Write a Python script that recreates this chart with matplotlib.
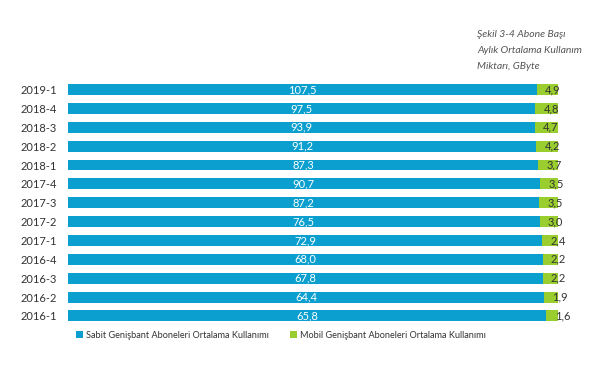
import matplotlib.pyplot as plt
import numpy as np

plt.rcParams['font.family'] = ['Lato', 'DejaVu Sans']

periods = ["2019-1", "2018-4", "2018-3", "2018-2", "2018-1", "2017-4", "2017-3",
           "2017-2", "2017-1", "2016-4", "2016-3", "2016-2", "2016-1"]
sabit = [107.5, 97.5, 93.9, 91.2, 87.3, 90.7, 87.2, 76.5, 72.9, 68.0, 67.8, 64.4, 65.8]
mobil = [4.9, 4.8, 4.7, 4.2, 3.7, 3.5, 3.5, 3.0, 2.4, 2.2, 2.2, 1.9, 1.6]

blue = "#0a9fcf"
green = "#9acd2e"

sabit = np.array(sabit)
mobil = np.array(mobil)
total = sabit + mobil
p_sabit = sabit / total
p_mobil = mobil / total

fig = plt.figure(figsize=(6, 3.71), dpi=100)
ax = fig.add_axes([0.113, 0.123, 0.817, 0.661])

y = np.arange(len(periods))
ax.barh(y, p_sabit, height=0.58, color=blue, label="Sabit Genişbant Aboneleri Ortalama Kullanımı")
ax.barh(y, p_mobil, left=p_sabit, height=0.58, color=green, label="Mobil Genişbant Aboneleri Ortalama Kullanımı")

for i in range(len(periods)):
    ax.text(p_sabit[i] / 2, y[i], f"{sabit[i]:.1f}".replace(".", ","), color="white",
            ha="center", va="center", fontsize=8)
    ax.annotate(f"{mobil[i]:.1f}".replace(".", ","), (p_sabit[i], y[i]),
                xytext=(6, 0), textcoords="offset points", color="#333333",
                ha="left", va="center", fontsize=8)

ax.set_xlim(0, 1)
ax.set_ylim(len(periods) - 0.5, -0.5)
ax.set_yticks(y)
ax.set_yticklabels(periods, fontsize=8, color="#333333")
ax.tick_params(axis="y", length=0, pad=8)
ax.set_xticks([])
for s in ax.spines.values():
    s.set_visible(False)

fig.legend(loc="center left", bbox_to_anchor=(0.126, 0.097), ncol=2, frameon=False,
           fontsize=6.6, handlelength=0.8, handleheight=0.8, handletextpad=0.3,
           columnspacing=2.3, labelcolor="#333333", borderaxespad=0, borderpad=0)

fig.text(0.795, 0.865, "Şekil 3-4 Abone Başı\nAylık Ortalama Kullanım\nMiktarı, GByte",
         fontsize=7.5, style="italic", color="#555555", ha="left", va="center",
         linespacing=2.0)

plt.savefig("out.png", dpi=100)
